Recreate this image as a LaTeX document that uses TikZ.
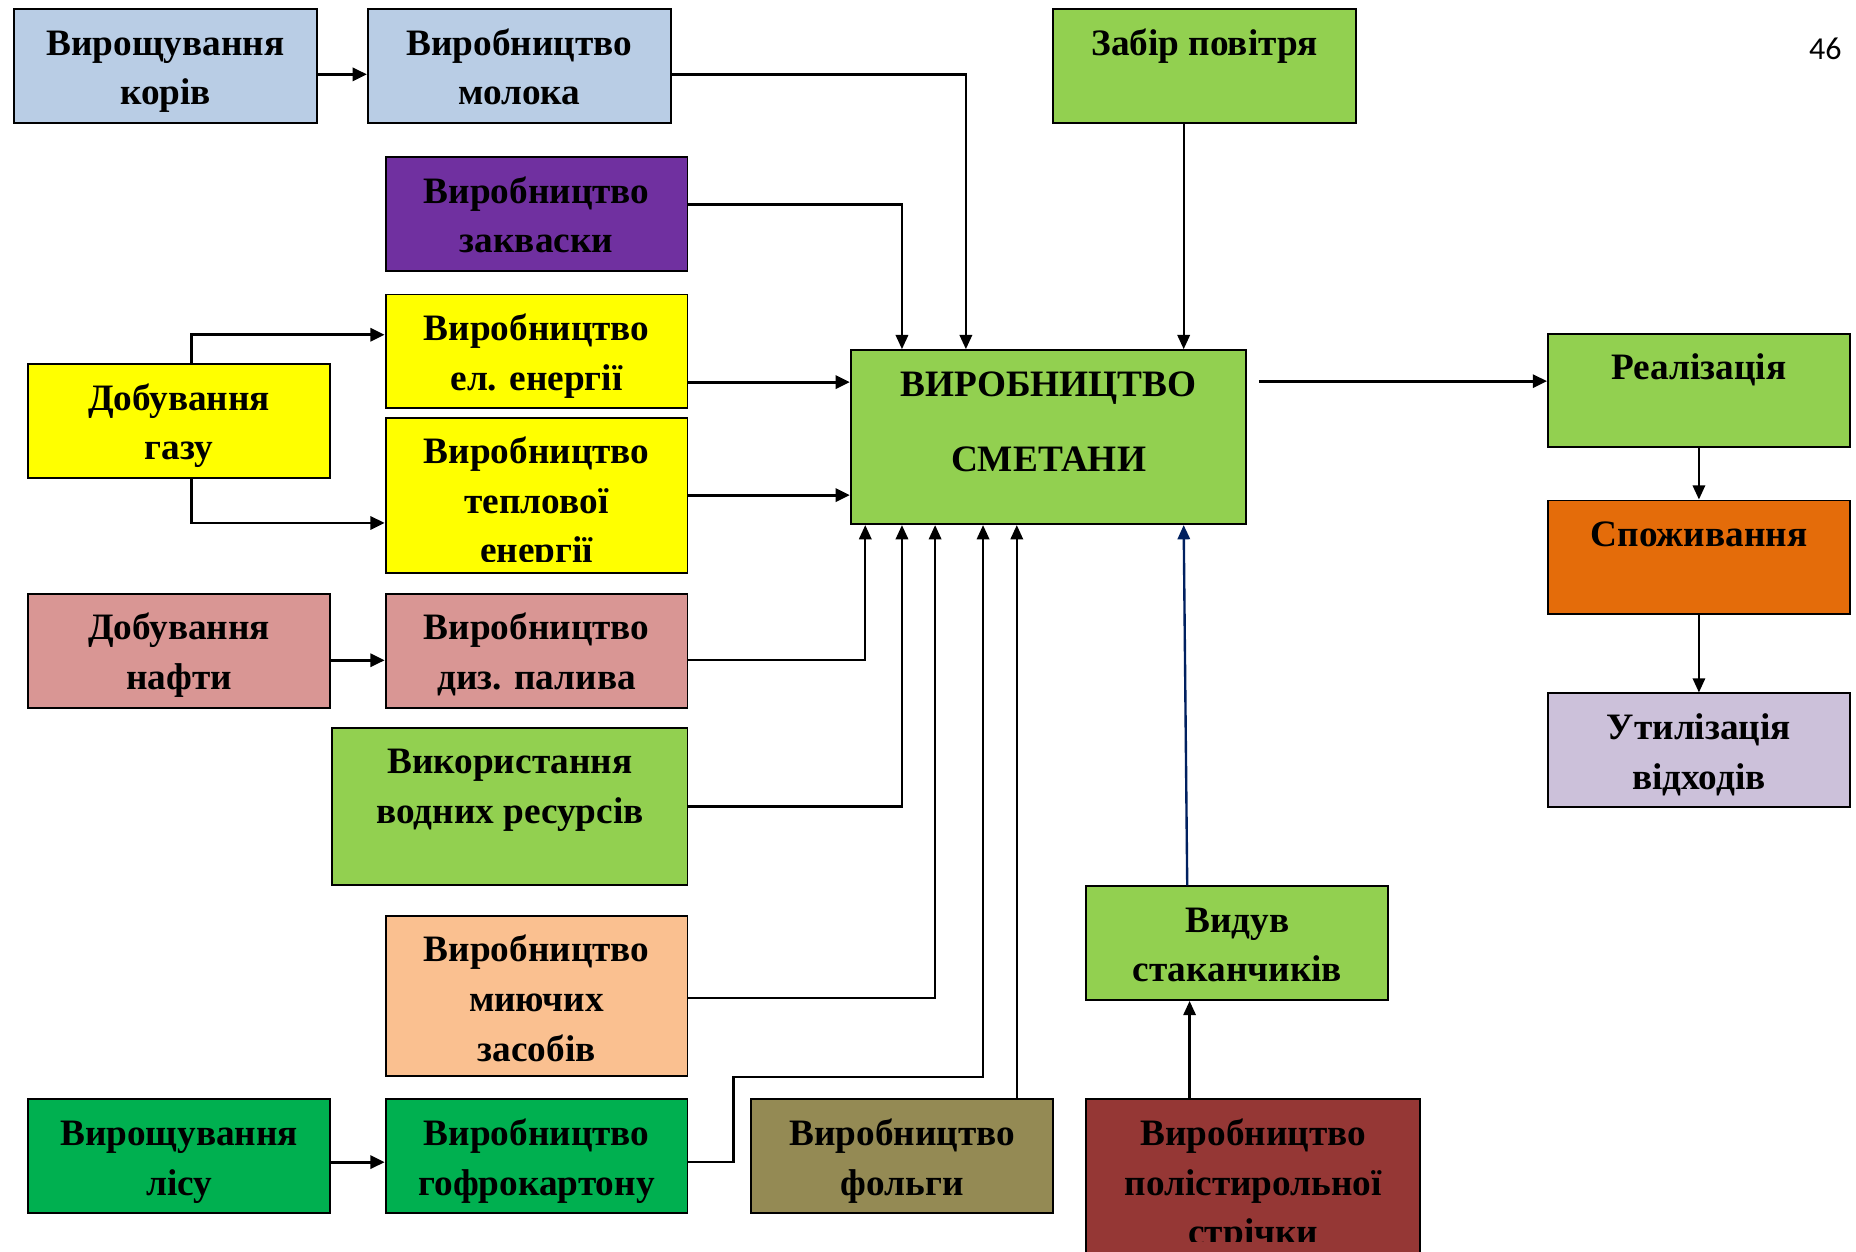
\documentclass[tikz,border=0pt]{standalone}
\usepackage{fontspec}
\setmainfont{Liberation Serif}
\newfontfamily\carlito{Carlito}
\usetikzlibrary{arrows.meta,calc}
\definecolor{cblue}{HTML}{B9CDE5}
\definecolor{cpurple}{HTML}{7030A0}
\definecolor{cyellow}{HTML}{FFFF00}
\definecolor{cpink}{HTML}{D99694}
\definecolor{cgreen}{HTML}{92D050}
\definecolor{cpeach}{HTML}{FAC090}
\definecolor{cdgreen}{HTML}{00B050}
\definecolor{colive}{HTML}{948A54}
\definecolor{cdred}{HTML}{953735}
\definecolor{corange}{HTML}{E46C0A}
\definecolor{clav}{HTML}{CCC1DA}
\definecolor{cnavy}{HTML}{002060}
\newcommand{\firstln}{\rule{0pt}{12.6pt}}
\begin{document}
\begin{tikzpicture}[x=0.5pt,y=-0.5pt,
 box/.style={draw=black, line width=0.8pt, inner sep=0pt, anchor=north west},
 sz/.style 2 args={minimum width=#1*0.5pt, minimum height=#2*0.5pt},
 txt/.style={font=\bfseries\fontsize{15.75}{21}\selectfont, align=center, anchor=north, inner sep=0pt},
 thk/.style={line width=1.2pt, -{Triangle[length=6pt,width=5.5pt]}},
 thn/.style={line width=1pt, -{Triangle[length=6pt,width=5.2pt]}}]
\useasboundingbox (0,0) rectangle (1568,1057);
\fill[white] (0,0) rectangle (1568,1057);
\clip (0,0) rectangle (1568,1057);

% boxes
\node[box, sz={256}{96}, fill=cblue] (cows) at (11,7) {};
\node[box, sz={256}{96}, fill=cblue] (milk) at (310,7) {};
\node[box, sz={256}{96}, fill=cgreen] (air) at (889,7) {};
\node[box, sz={255}{96}, fill=cpurple] (starter) at (325,132) {};
\node[box, sz={255}{96}, fill=cyellow] (elec) at (325,248) {};
\node[box, sz={255}{96}, fill=cyellow] (gas) at (23,307) {};
\node[box, sz={255}{131}, fill=cyellow] (heat) at (325,352) {};
\node[box, sz={255}{96}, fill=cpink] (oil) at (23,501) {};
\node[box, sz={255}{96}, fill=cpink] (diesel) at (325,501) {};
\node[box, sz={300}{133}, fill=cgreen] (water) at (280,614) {};
\node[box, sz={255}{135}, fill=cpeach] (deterg) at (325,773) {};
\node[box, sz={255}{96}, fill=cdgreen] (forest) at (23,928) {};
\node[box, sz={255}{96}, fill=cdgreen] (carton) at (325,928) {};
\node[box, sz={255}{96}, fill=colive] (foil) at (634,928) {};
\node[box, sz={282}{150}, fill=cdred] (poly) at (917,928) {};
\node[box, sz={255}{96}, fill=cgreen] (cups) at (917,748) {};
\node[box, sz={334}{147}, fill=cgreen] (main) at (718,295) {};
\node[box, sz={255}{96}, fill=cgreen] (sale) at (1307,281) {};
\node[box, sz={255}{96}, fill=corange] (cons) at (1307,422) {};
\node[box, sz={255}{96}, fill=clav] (util) at (1307,585) {};

% texts
\node[txt] (tcows) at ($(cows.north)+(0,14)$) {\firstln Вирощування\\корів};
\node[txt] (tmilk) at ($(milk.north)+(0,14)$) {\firstln Виробництво\\молока};
\node[txt] (tair) at ($(air.north)+(0,14)$) {\firstln Забір повітря};
\node[txt] (tstarter) at ($(starter.north)+(0,14)$) {\firstln Виробництво\\закваски};
\node[txt] (telec) at ($(elec.north)+(0,14)$) {\firstln Виробництво\\ел. енергії};
\node[txt] (tgas) at ($(gas.north)+(0,14)$) {\firstln Добування\\газу};
\begin{scope}
\clip (325,352) rectangle (580,474);
\node[txt] (theat) at ($(heat.north)+(0,14)$) {\firstln Виробництво\\теплової\\енергії};
\end{scope}
\node[txt] (toil) at ($(oil.north)+(0,14)$) {\firstln Добування\\нафти};
\node[txt] (tdiesel) at ($(diesel.north)+(0,14)$) {\firstln Виробництво\\диз. палива};
\node[txt] (twater) at ($(water.north)+(0,14)$) {\firstln Використання\\водних ресурсів};
\node[txt] (tdeterg) at ($(deterg.north)+(0,14)$) {\firstln Виробництво\\миючих\\засобів};
\node[txt] (tforest) at ($(forest.north)+(0,14)$) {\firstln Вирощування\\лісу};
\node[txt] (tcarton) at ($(carton.north)+(0,14)$) {\firstln Виробництво\\гофрокартону};
\node[txt] (tfoil) at ($(foil.north)+(0,14)$) {\firstln Виробництво\\фольги};
\begin{scope}
\clip (917,928) rectangle (1199,1049);
\node[txt] (tpoly) at ($(poly.north)+(0,14)$) {\firstln Виробництво\\полістирольної\\стрічки};
\end{scope}
\node[txt] (tcups) at ($(cups.north)+(0,14)$) {\firstln Видув\\стаканчиків};
\node[txt, font=\bfseries\fontsize{15.75}{32}\selectfont] (tmain) at ($(main.north)+(0,14)$) {\firstln ВИРОБНИЦТВО\\СМЕТАНИ};
\node[txt] (tsale) at ($(sale.north)+(0,14)$) {\firstln Реалізація};
\node[txt] (tcons) at ($(cons.north)+(0,14)$) {\firstln Споживання};
\node[txt] (tutil) at ($(util.north)+(0,14)$) {\firstln Утилізація\\відходів};
\node[font=\carlito\fontsize{13.5}{16}\selectfont, inner sep=0pt] (pg) at (1542,41) {46};

% connectors
\draw[thk] ($(cows.east)+(0,7)$) coordinate (c1) -- (c1 -| milk.west);
\draw[thn] ($(milk.east)+(0,7)$) -| ($(main.north west)+(98,0)$);
\draw[thn] ($(starter.east)+(0,-8)$) -| ($(main.north west)+(44,0)$);
\draw[thn] ($(air.south west)+(111,0)$) -- ($(main.north west)+(282,0)$);
\draw[thk] ($(gas.north west)+(139,0)$) |- ($(elec.west)+(0,-14)$);
\draw[thk] ($(gas.south west)+(139,0)$) |- ($(heat.west)+(0,23.5)$);
\draw[thk] ($(elec.east)+(0,26)$) coordinate (e1) -- (e1 -| main.west);
\draw[thk] (heat.east) -- (heat.east -| main.west);
\draw[thk] ($(oil.east)+(0,8)$) coordinate (o1) -- (o1 -| diesel.west);
\draw[thn] ($(diesel.east)+(0,8)$) -| ($(main.south west)+(13,0)$);
\draw[thn] (water.east) -| ($(main.south west)+(44,0)$);
\draw[thn] ($(deterg.east)+(0,2)$) -| ($(main.south west)+(72,0)$);
\draw[thk] ($(forest.east)+(0,5)$) coordinate (f1) -- (f1 -| carton.west);
\draw[thn] ($(carton.east)+(0,5)$) -| ($(deterg.south east)+(38,0)$) -| ($(main.south west)+(112.5,0)$);
\draw[thn] ($(foil.north west)+(225,0)$) -- ($(main.south west)+(141,0)$);
\draw[thn, draw=cnavy, -{Triangle[length=6pt,width=5.2pt,fill=cnavy]}] ($(cups.north west)+(86,0)$) -- ($(main.south west)+(282,0)$);
\draw[thn] ($(poly.north west)+(88,0)$) -- ($(cups.south west)+(88,0)$);
\draw[thk] ($(main.north east)+(10,27)$) coordinate (m1) -- (m1 -| sale.west);
\draw[thn] (sale.south) -- (cons.north);
\draw[thn] (cons.south) -- (util.north);
\end{tikzpicture}
\end{document}
